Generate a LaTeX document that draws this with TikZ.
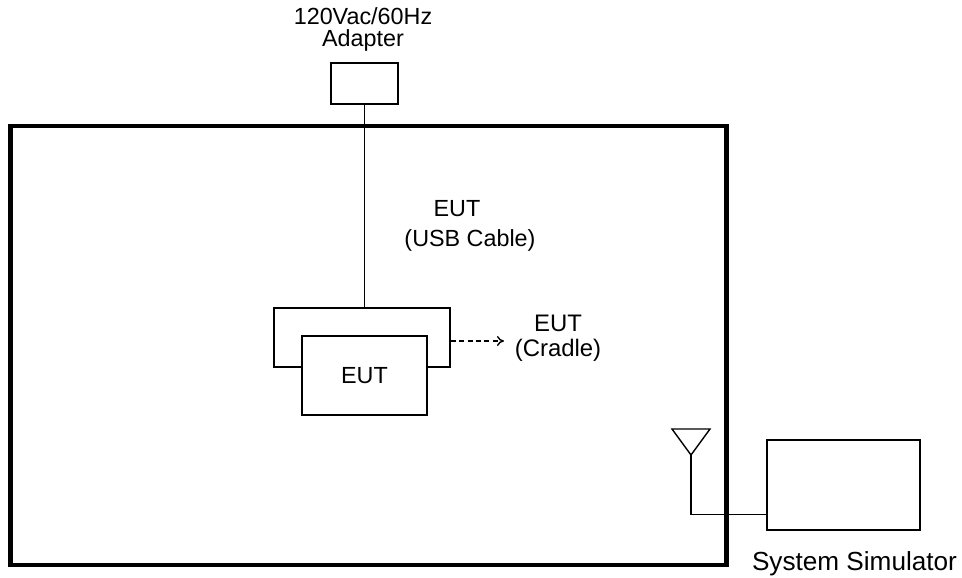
\documentclass[tikz,border=0pt]{standalone}
\usepackage{fontspec}
\setmainfont{Liberation Sans}
\usetikzlibrary{arrows.meta,calc,positioning}
\tikzset{pin/.style={-{To[length=5pt,width=7pt]}},
  box/.style={draw, line width=1pt, inner sep=0pt},
  lbl/.style={align=center, inner sep=0pt}}

\begin{document}
\begin{tikzpicture}[x=0.025cm, y=-0.025cm, line width=1pt]
  \useasboundingbox (0,0) rectangle (962,578);
  % test chamber
  \node[draw, line width=3.2pt, minimum width=17.9cm, minimum height=10.975cm] (chamber) at (368.5,345.5) {};
  % adapter
  \node[box, minimum width=1.675cm, minimum height=1.025cm] (adapter) at (364.5,83.5) {};
  \node[lbl, font=\fontsize{16.6}{15.6}\selectfont] (adlbl) at (363,29.5) {120Vac/60Hz\\Adapter};
  % cradle with the EUT in front
  \node[box, minimum width=4.4cm, minimum height=1.475cm] (cradle) at (362,337.5) {};
  \node[box, fill=white, minimum width=3.125cm, minimum height=1.975cm,
    font=\fontsize{16.6}{20}\selectfont] (eut) at (364.5,375.5) {EUT};
  % usb cable
  \draw (adapter.south) -- (adapter.south |- cradle.north);
  \node[lbl, font=\fontsize{16.6}{21.3}\selectfont] (usblbl) at (470,226) {EUT\hspace*{0.65cm}\\(USB Cable)};
  % cradle pointer
  \node[lbl, font=\fontsize{17}{17.8}\selectfont] (cradlbl) at (558,338.5) {EUT\\(Cradle)};
  \coordinate (tip) at (504,341);
  \draw[pin, dashed, dash pattern=on 3.5pt off 2.5pt] (cradle.east |- tip) -- (tip);
  % antenna and system simulator
  \node[box, minimum width=3.825cm, minimum height=2.25cm] (sim) at (843.5,485) {};
  \node[anchor=base, inner sep=0pt, font=\fontsize{18.6}{22}\selectfont] (simlbl) at (854.5,570) {System Simulator};
  \coordinate (ant) at (691,455);
  \draw (ant) -- ++(-19,-26) -- ++(38,0) -- cycle;
  \coordinate (feed) at ($(sim.south west)+(0,-16)$);
  \draw (ant) |- (feed);
\end{tikzpicture}
\end{document}
